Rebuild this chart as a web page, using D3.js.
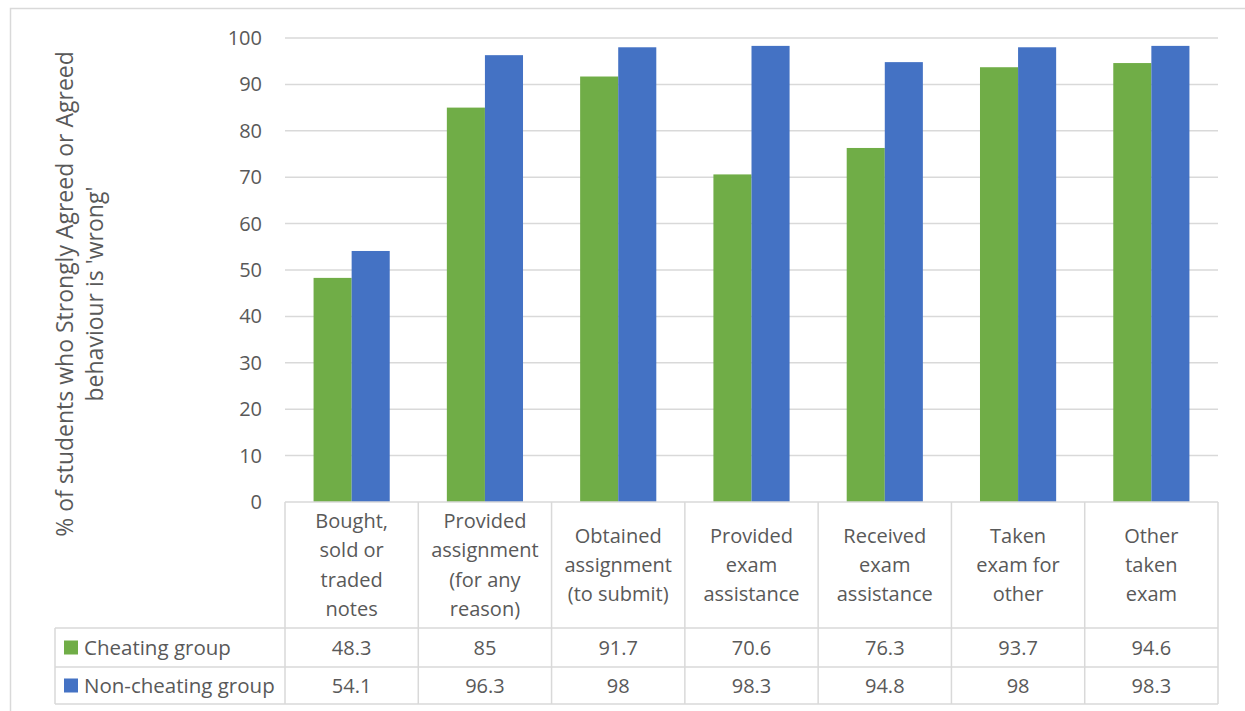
<!DOCTYPE html>
<html>
<head>
<meta charset="utf-8">
<script src="https://cdn.jsdelivr.net/npm/d3@7"></script>
<style>
  body { margin: 0; background: #fff; }
  svg text { font-family: "Open Sans", "Noto Sans", sans-serif; fill: #595959; }
</style>
</head>
<body>
<div id="chart"></div>
<script>
// categories (wrapped the way the table header shows them)
const categoryLines = [
  ["Bought,", "sold or", "traded", "notes"],
  ["Provided", "assignment", "(for any", "reason)"],
  ["Obtained", "assignment", "(to submit)"],
  ["Provided", "exam", "assistance"],
  ["Received", "exam", "assistance"],
  ["Taken", "exam for", "other"],
  ["Other", "taken", "exam"]
];
const categories = categoryLines.map(d => d.join(" "));

const seriesNames = ["Cheating group", "Non-cheating group"];
const cheating = [48.3, 85, 91.7, 70.6, 76.3, 93.7, 94.6];
const nonCheating = [54.1, 96.3, 98, 98.3, 94.8, 98, 98.3];
const yTicks = [0, 10, 20, 30, 40, 50, 60, 70, 80, 90, 100];

const colors = d3.scaleOrdinal()
  .domain(seriesNames)
  .range(["#70ad47", "#4472c4"]);

const data = categories.map((c, i) => ({
  cat: c,
  values: [
    { series: seriesNames[0], value: cheating[i] },
    { series: seriesNames[1], value: nonCheating[i] }
  ]
}));

// layout
const W = 1245, H = 711;
const plot = { left: 285, right: 1218, top: 38, bottom: 502 };
const rows = { header: 628, row1: 667, row2: 704, legendLeft: 55 };
const gridColor = "#d9d9d9";

const svg = d3.select("#chart")
  .append("svg")
    .attr("width", W)
    .attr("height", H);

// outer chart border
svg.append("rect")
  .attr("x", 10.5).attr("y", 8.5)
  .attr("width", 1260).attr("height", 720)
  .attr("fill", "none")
  .attr("stroke", gridColor)
  .attr("stroke-width", 1.5);

// scales
const x0 = d3.scaleBand()
  .domain(categories)
  .range([plot.left, plot.right])
  .paddingInner(0).paddingOuter(0);

const barW = x0.bandwidth() / 3.5; // gap width 150%
const x1 = d3.scaleBand()
  .domain(seriesNames)
  .range([-barW, barW]);

const y = d3.scaleLinear()
  .domain([0, 100])
  .range([plot.bottom, plot.top]);

// gridlines
svg.append("g")
  .selectAll("line")
  .data(yTicks.filter(t => t > 0))
  .join("line")
    .attr("x1", plot.left)
    .attr("x2", plot.right)
    .attr("y1", d => y(d))
    .attr("y2", d => y(d))
    .attr("stroke", gridColor)
    .attr("stroke-width", 1.5);

// y axis labels
const yAxis = svg.append("g")
  .attr("transform", `translate(${plot.left - 23},0)`)
  .call(d3.axisLeft(y).tickValues(yTicks).tickSize(0).tickPadding(0));
yAxis.select(".domain").remove();
yAxis.selectAll("text")
  .style("font-size", "20px")
  .attr("fill", "#595959")
  .attr("font-family", "'Open Sans', sans-serif");

// y axis title
svg.append("text")
  .attr("transform", `translate(73,294) rotate(-90)`)
  .attr("text-anchor", "middle")
  .style("font-size", "23px")
  .selectAll("tspan")
  .data(["% of students who Strongly Agreed or Agreed", "behaviour is 'wrong'"])
  .join("tspan")
    .attr("x", 0)
    .attr("dy", (d, i) => i === 0 ? 0 : 30)
    .text(d => d);

// bars
svg.append("g")
  .selectAll("g")
  .data(data)
  .join("g")
    .attr("transform", d => `translate(${x0(d.cat) + x0.bandwidth() / 2},0)`)
  .selectAll("rect")
  .data(d => d.values)
  .join("rect")
    .attr("x", d => x1(d.series))
    .attr("y", d => y(d.value))
    .attr("width", x1.bandwidth())
    .attr("height", d => y(0) - y(d.value))
    .attr("fill", d => colors(d.series));

// data table
const table = svg.append("g")
  .attr("fill", "none")
  .attr("stroke", gridColor)
  .attr("stroke-width", 1.5);

// horizontal lines
table.append("line").attr("x1", plot.left).attr("x2", plot.right)
  .attr("y1", plot.bottom).attr("y2", plot.bottom);
[rows.header, rows.row1, rows.row2].forEach(yy => {
  table.append("line").attr("x1", rows.legendLeft).attr("x2", plot.right)
    .attr("y1", yy).attr("y2", yy);
});
// vertical lines
const edges = categories.map(c => x0(c)).concat([plot.right]);
table.selectAll(".vline")
  .data(edges)
  .join("line")
    .attr("x1", d => d).attr("x2", d => d)
    .attr("y1", plot.bottom).attr("y2", rows.row2);
table.append("line")
  .attr("x1", rows.legendLeft).attr("x2", rows.legendLeft)
  .attr("y1", rows.header).attr("y2", rows.row2);

// category header text
const lineH = 29.3;
const headerMid = (plot.bottom + rows.header) / 2;
svg.append("g")
  .selectAll("text")
  .data(categoryLines)
  .join("text")
    .attr("text-anchor", "middle")
    .attr("x", (d, i) => x0(categories[i]) + x0.bandwidth() / 2)
    .attr("y", d => headerMid - (d.length - 1) * lineH / 2)
    .style("font-size", "20px")
  .selectAll("tspan")
  .data(d => d)
  .join("tspan")
    .attr("x", function () { return d3.select(this.parentNode).attr("x"); })
    .attr("dy", (d, i) => i === 0 ? "0.35em" : lineH)
    .text(d => d);

// value rows
const rowMids = [(rows.header + rows.row1) / 2, (rows.row1 + rows.row2) / 2];
[cheating, nonCheating].forEach((vals, r) => {
  svg.append("g")
    .selectAll("text")
    .data(vals)
    .join("text")
      .attr("text-anchor", "middle")
      .attr("x", (d, i) => x0(categories[i]) + x0.bandwidth() / 2)
      .attr("y", rowMids[r])
      .attr("dy", "0.35em")
      .style("font-size", "20px")
      .text(d => d);
});

// legend keys inside the table
const legend = svg.append("g")
  .selectAll("g")
  .data(seriesNames)
  .join("g")
    .attr("transform", (d, i) => `translate(64,${rowMids[i]})`);
legend.append("rect")
  .attr("x", 0).attr("y", -7)
  .attr("width", 14).attr("height", 14)
  .attr("fill", d => colors(d));
legend.append("text")
  .attr("x", 20)
  .attr("dy", "0.35em")
  .style("font-size", "20.5px")
  .text(d => d);
</script>
</body>
</html>
